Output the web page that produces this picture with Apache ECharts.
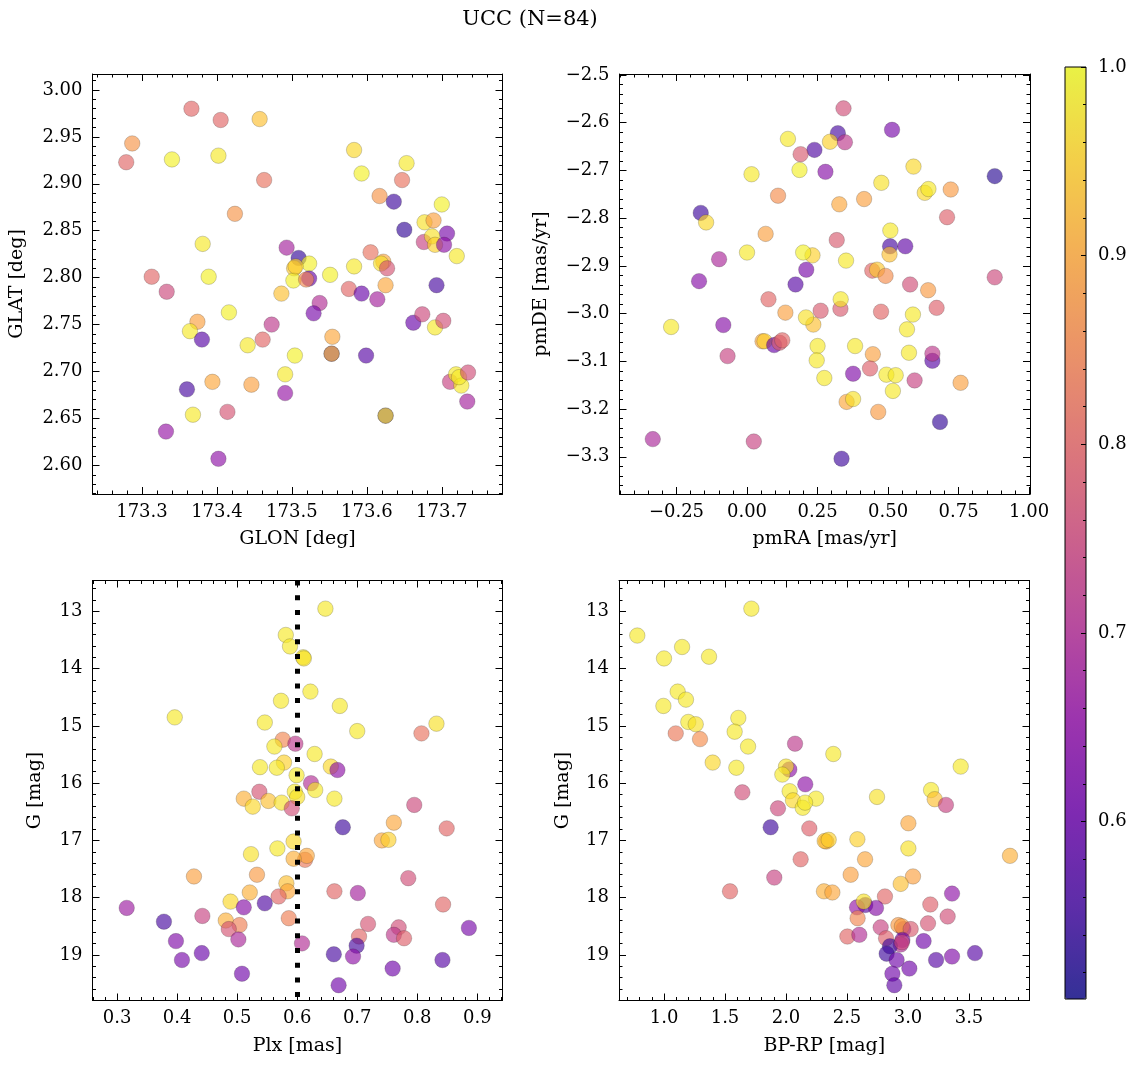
<!DOCTYPE html>
<html><head><meta charset="utf-8">
<script src="https://cdn.jsdelivr.net/npm/echarts@6/dist/echarts.min.js"></script>
<style>html,body{margin:0;padding:0;background:#fff}#c{width:1136px;height:1067px}</style>
</head><body><div id="c"></div><script>
// ---------------- DATA ----------------
const titleText = 'UCC (N=84)';
// Panel 1: GLON / GLAT
const glon = [173.366,173.405,173.457,173.287,173.279,173.340,173.402,173.463,173.583,173.593,173.653,173.647,173.617,173.636,173.424,173.700,173.677,173.689,173.650,173.707,173.676,173.687,173.691,173.703,173.720,173.381,173.493,173.509,173.523,173.503,173.502,173.523,173.519,173.551,173.583,173.605,173.622,173.619,173.627,173.625,173.693,173.313,173.389,173.333,173.486,173.576,173.593,173.614,173.537,173.529,173.416,173.374,173.364,173.380,173.473,173.461,173.441,173.554,173.553,173.553,173.504,173.599,173.662,173.674,173.691,173.702,173.491,173.394,173.446,173.360,173.491,173.368,173.414,173.625,173.625,173.332,173.402,173.711,173.719,173.726,173.723,173.735,173.734,173.505];
const glat = [2.980,2.968,2.969,2.943,2.923,2.926,2.930,2.904,2.936,2.911,2.922,2.904,2.887,2.881,2.868,2.878,2.859,2.861,2.851,2.847,2.838,2.844,2.835,2.835,2.823,2.836,2.832,2.821,2.815,2.810,2.797,2.799,2.798,2.803,2.812,2.827,2.817,2.815,2.810,2.792,2.792,2.801,2.801,2.785,2.783,2.788,2.783,2.777,2.773,2.762,2.763,2.753,2.743,2.734,2.750,2.734,2.728,2.737,2.719,2.719,2.717,2.717,2.752,2.761,2.747,2.754,2.697,2.689,2.686,2.681,2.677,2.654,2.657,2.653,2.653,2.636,2.607,2.689,2.697,2.685,2.694,2.699,2.668,2.812];
const probSky = [0.80,0.80,0.93,0.87,0.80,0.99,0.98,0.82,0.96,0.99,0.98,0.82,0.87,0.55,0.87,0.99,0.97,0.89,0.54,0.62,0.74,0.97,0.95,0.65,0.98,0.98,0.68,0.54,0.99,0.94,0.99,0.60,0.85,0.99,0.98,0.82,0.90,0.97,0.77,0.90,0.56,0.80,0.99,0.75,0.93,0.80,0.60,0.68,0.70,0.62,0.99,0.89,0.98,0.58,0.72,0.80,0.98,0.90,0.55,0.92,0.99,0.58,0.60,0.75,0.98,0.76,0.98,0.90,0.89,0.56,0.66,0.98,0.77,0.55,0.97,0.66,0.65,0.74,0.98,0.98,0.98,0.76,0.68,0.95];
// Panel 2: pmRA / pmDE
const pmra = [0.342,0.514,0.322,0.145,0.294,0.347,0.239,0.190,0.278,0.186,0.016,0.590,0.878,0.476,0.630,0.643,0.722,0.110,0.415,0.327,-0.164,-0.145,0.709,0.066,0.508,0.318,0.000,0.232,0.199,0.507,0.561,0.505,0.351,-0.099,0.210,-0.170,0.172,0.444,0.461,0.491,0.578,0.642,0.878,0.076,0.331,0.332,0.136,0.261,0.475,0.588,0.672,-0.269,-0.084,0.235,0.209,0.567,0.055,0.062,0.096,0.115,0.125,0.250,-0.069,0.383,0.446,0.574,0.657,0.657,0.247,0.274,0.376,0.436,0.494,0.527,0.517,0.594,0.757,0.353,0.376,0.465,0.684,-0.334,0.024,0.335];
const pmde = [-2.570,-2.615,-2.622,-2.634,-2.640,-2.641,-2.657,-2.666,-2.703,-2.699,-2.708,-2.692,-2.712,-2.726,-2.747,-2.739,-2.740,-2.753,-2.760,-2.771,-2.789,-2.809,-2.798,-2.833,-2.826,-2.846,-2.872,-2.878,-2.872,-2.859,-2.859,-2.876,-2.889,-2.886,-2.908,-2.932,-2.939,-2.910,-2.908,-2.921,-2.939,-2.951,-2.924,-2.970,-2.990,-2.970,-2.998,-2.994,-2.996,-3.002,-2.988,-3.028,-3.024,-3.023,-3.008,-3.033,-3.058,-3.058,-3.066,-3.061,-3.056,-3.068,-3.089,-3.068,-3.085,-3.082,-3.099,-3.084,-3.098,-3.135,-3.126,-3.115,-3.128,-3.129,-3.162,-3.140,-3.145,-3.185,-3.179,-3.206,-3.227,-3.263,-3.268,-3.304];
const probPm = [0.76,0.62,0.56,0.98,0.95,0.72,0.57,0.78,0.64,0.99,0.98,0.96,0.53,0.97,0.96,0.98,0.88,0.86,0.89,0.90,0.55,0.96,0.79,0.89,0.98,0.78,0.98,0.95,0.99,0.56,0.59,0.93,0.98,0.69,0.62,0.64,0.58,0.80,0.94,0.86,0.76,0.88,0.75,0.80,0.78,0.98,0.89,0.78,0.80,0.98,0.79,0.98,0.64,0.93,0.97,0.98,0.90,0.95,0.60,0.78,0.80,0.98,0.74,0.98,0.89,0.98,0.58,0.72,0.98,0.98,0.63,0.79,0.98,0.98,0.98,0.74,0.89,0.90,0.97,0.88,0.54,0.69,0.74,0.55];
// Panel 3: Plx / G
const plx = [0.647,0.581,0.588,0.610,0.611,0.622,0.573,0.671,0.396,0.546,0.700,0.832,0.807,0.576,0.597,0.562,0.629,0.578,0.538,0.566,0.656,0.667,0.599,0.623,0.537,0.596,0.600,0.630,0.511,0.552,0.574,0.526,0.591,0.662,0.795,0.676,0.761,0.849,0.741,0.752,0.594,0.567,0.523,0.613,0.616,0.594,0.428,0.533,0.785,0.582,0.584,0.521,0.569,0.662,0.701,0.489,0.546,0.316,0.511,0.843,0.442,0.378,0.481,0.504,0.486,0.586,0.718,0.769,0.761,0.778,0.703,0.886,0.398,0.502,0.608,0.699,0.441,0.661,0.408,0.693,0.842,0.508,0.759,0.669];
const gPlx = [12.95,13.41,13.61,13.80,13.82,14.40,14.56,14.65,14.85,14.94,15.09,14.96,15.13,15.24,15.31,15.36,15.49,15.64,15.72,15.73,15.71,15.77,15.86,16.00,16.15,16.15,16.24,16.12,16.27,16.31,16.34,16.41,16.44,16.27,16.38,16.77,16.69,16.79,17.00,16.99,17.02,17.14,17.24,17.34,17.27,17.32,17.63,17.60,17.66,17.75,17.89,17.91,17.98,17.89,17.92,18.07,18.10,18.18,18.17,18.12,18.32,18.42,18.40,18.48,18.55,18.36,18.46,18.52,18.65,18.71,18.68,18.53,18.76,18.73,18.80,18.84,18.97,18.99,19.09,19.03,19.09,19.33,19.24,19.53];
const probPlx = [0.98,0.98,0.98,0.98,0.97,0.98,0.98,0.98,0.98,0.98,0.98,0.97,0.82,0.85,0.72,0.98,0.98,0.95,0.98,0.98,0.96,0.65,0.98,0.70,0.77,0.98,0.97,0.98,0.91,0.93,0.97,0.96,0.76,0.98,0.75,0.55,0.90,0.80,0.90,0.95,0.96,0.98,0.97,0.83,0.90,0.91,0.89,0.88,0.76,0.93,0.90,0.91,0.80,0.80,0.68,0.96,0.57,0.67,0.64,0.80,0.74,0.56,0.91,0.84,0.77,0.84,0.77,0.76,0.72,0.79,0.80,0.62,0.63,0.69,0.70,0.56,0.60,0.56,0.62,0.65,0.58,0.61,0.61,0.61];
const plxLine = 0.597;
// Panel 4: BP-RP / G
const bprp = [1.716,0.781,1.148,1.000,1.369,1.112,1.180,0.995,1.609,1.199,1.260,1.096,1.295,1.579,2.074,1.689,2.388,1.399,1.593,3.432,2.027,2.000,1.970,2.158,2.030,3.189,1.642,2.057,2.246,2.137,2.156,3.219,3.311,1.934,2.746,1.874,2.191,3.003,2.330,2.317,2.350,2.585,3.003,2.120,2.648,3.836,1.904,2.530,3.041,1.541,2.311,2.380,2.940,3.361,2.811,2.650,2.582,2.738,2.637,3.183,2.587,3.325,2.776,2.962,2.921,2.950,3.022,3.164,2.820,2.503,2.601,2.954,2.940,3.128,2.852,2.825,2.907,3.011,2.872,2.888,3.230,3.361,3.549,2.950];
const gCmd = [12.95,13.42,13.62,13.82,13.79,14.40,14.54,14.65,14.86,14.93,14.97,15.13,15.23,15.10,15.31,15.36,15.49,15.64,15.73,15.71,15.76,15.71,15.85,16.02,16.14,16.12,16.16,16.30,16.27,16.43,16.34,16.28,16.38,16.44,16.24,16.77,16.79,16.70,17.02,17.01,16.99,16.98,17.14,17.33,17.33,17.27,17.65,17.60,17.63,17.89,17.89,17.91,17.76,17.93,17.98,18.13,18.17,18.18,18.07,18.12,18.36,18.33,18.52,18.55,18.48,18.50,18.55,18.45,18.71,18.68,18.65,18.74,18.82,18.76,18.85,18.98,19.09,19.24,19.33,19.53,19.09,19.03,18.97,18.78];
const probCmd = [0.98,0.98,0.98,0.98,0.98,0.98,0.98,0.98,0.98,0.98,0.97,0.83,0.86,0.98,0.72,0.98,0.98,0.96,0.98,0.98,0.65,0.97,0.98,0.65,0.98,0.98,0.76,0.96,0.98,0.98,0.98,0.93,0.74,0.75,0.97,0.55,0.79,0.90,0.90,0.93,0.95,0.95,0.97,0.80,0.90,0.91,0.74,0.89,0.89,0.80,0.91,0.90,0.93,0.65,0.80,0.58,0.66,0.64,0.97,0.79,0.85,0.76,0.74,0.64,0.88,0.88,0.78,0.77,0.79,0.80,0.70,0.62,0.70,0.61,0.55,0.55,0.61,0.61,0.61,0.59,0.58,0.63,0.58,0.75];
// Tick labels
const glonTicks = [173.3,173.4,173.5,173.6,173.7];
const glatTicks = [2.60,2.65,2.70,2.75,2.80,2.85,2.90,2.95,3.00];
const pmraTicks = [-0.25,0.00,0.25,0.50,0.75,1.00];
const pmdeTicks = [-3.3,-3.2,-3.1,-3.0,-2.9,-2.8,-2.7,-2.6,-2.5];
const plxTicks = [0.3,0.4,0.5,0.6,0.7,0.8,0.9];
const gTicks = [13,14,15,16,17,18,19];
const bprpTicks = [1.0,1.5,2.0,2.5,3.0,3.5];
const cbTicks = [0.6,0.7,0.8,0.9,1.0];
const probMin = 0.506, probMax = 1.0;

// ---------------- STYLE / BUILD ----------------
const FONT = 'DejaVu Serif';
const FS = 18;      // tick labels
const FSN = 19;     // axis names
const plasma = ['#0d0887','#41049d','#6a00a8','#8f0da4','#b12a90','#cc4778','#e16462','#f2844b','#fca636','#fcce25','#f0f921'];
const ALPHA = 0.8;
function rgba(h){const r=parseInt(h.slice(1,3),16),g=parseInt(h.slice(3,5),16),b=parseInt(h.slice(5,7),16);return `rgba(${r},${g},${b},${ALPHA})`;}
const plasmaA = plasma.map(rgba);

function minors(min,max,step,majors){
  const out=[];
  for(let k=Math.ceil(min/step-1e-9); k*step<=max+1e-12; k++){
    const v=+(k*step).toFixed(6);
    if(v<=min||v>=max) continue;
    if(!majors.some(m=>Math.abs(m-v)<step/10)) out.push(v);
  }
  return out;
}
function fmt(dec){return v=>{const s=Number(v).toFixed(dec);return s.replace('-','\u2212');};}
function zip(a,b,c){return a.map((v,i)=>[v,b[i],c[i]]);}

const grids=[], xAxes=[], yAxes=[];
const black={color:'#000',width:1};
const txt={fontFamily:FONT,fontSize:FS,color:'#000'};
const ntxt={fontFamily:FONT,fontSize:FSN,color:'#000'};

function panel(g, rect, xr, yr, xMaj, yMaj, xStep, yStep, xDec, yDec, xName, yName, xGap, yGap, yInv){
  grids.push({left:rect[0],top:rect[1],width:rect[2],height:rect[3],containLabel:false});
  const xMin=minors(xr[0],xr[1],xStep,xMaj), yMin=minors(yr[0],yr[1],yStep,yMaj);
  const cx={type:'value',gridIndex:g,min:xr[0],max:xr[1],splitLine:{show:false}};
  const cy={type:'value',gridIndex:g,min:yr[0],max:yr[1],inverse:!!yInv,splitLine:{show:false}};
  const line={show:true,onZero:false,lineStyle:black};
  const noline={show:false,onZero:false};
  xAxes.push(Object.assign({},cx,{position:'bottom',axisLine:line,
    axisTick:{show:true,inside:true,length:7,customValues:xMaj,lineStyle:black},
    axisLabel:Object.assign({show:true,customValues:xMaj,formatter:fmt(xDec),margin:9},txt),
    name:xName,nameLocation:'middle',nameGap:xGap,nameTextStyle:ntxt}));
  xAxes.push(Object.assign({},cx,{position:'top',axisLine:line,
    axisTick:{show:true,inside:true,length:7,customValues:xMaj,lineStyle:black},axisLabel:{show:false}}));
  xAxes.push(Object.assign({},cx,{position:'bottom',axisLine:noline,
    axisTick:{show:true,inside:true,length:3.5,customValues:xMin,lineStyle:black},axisLabel:{show:false}}));
  xAxes.push(Object.assign({},cx,{position:'top',axisLine:noline,
    axisTick:{show:true,inside:true,length:3.5,customValues:xMin,lineStyle:black},axisLabel:{show:false}}));
  yAxes.push(Object.assign({},cy,{position:'left',axisLine:line,
    axisTick:{show:true,inside:true,length:7,customValues:yMaj,lineStyle:black},
    axisLabel:Object.assign({show:true,customValues:yMaj,formatter:fmt(yDec),margin:10},txt),
    name:yName,nameLocation:'middle',nameGap:yGap,nameTextStyle:ntxt}));
  yAxes.push(Object.assign({},cy,{position:'right',axisLine:line,
    axisTick:{show:true,inside:true,length:7,customValues:yMaj,lineStyle:black},axisLabel:{show:false}}));
  yAxes.push(Object.assign({},cy,{position:'left',axisLine:noline,
    axisTick:{show:true,inside:true,length:3.5,customValues:yMin,lineStyle:black},axisLabel:{show:false}}));
  yAxes.push(Object.assign({},cy,{position:'right',axisLine:noline,
    axisTick:{show:true,inside:true,length:3.5,customValues:yMin,lineStyle:black},axisLabel:{show:false}}));
}

panel(0,[92.5,74,410,420],[173.234,173.781],[2.5695,3.017],glonTicks,glatTicks,0.02,0.01,1,2,'GLON [deg]','GLAT [deg]',36,66,false);
panel(1,[619.5,74,410.5,420],[-0.452,1.003],[-3.378,-2.498],pmraTicks,pmdeTicks,0.05,0.02,2,1,'pmRA [mas/yr]','pmDE [mas/yr]',36,69,false);
panel(2,[92.5,580.5,410,420],[0.259,0.942],[12.458,19.798],plxTicks,gTicks,0.02,0.2,1,0,'Plx [mas]','G [mag]',36,48,true);
panel(3,[619,580.5,410.5,420],[0.631,3.996],[12.458,19.798],bprpTicks,gTicks,0.1,0.2,1,0,'BP-RP [mag]','G [mag]',36,46,true);

// colorbar frame + ticks
const cbRect=[1065,67,21,932];
grids.push({left:cbRect[0],top:cbRect[1],width:cbRect[2],height:cbRect[3],show:true,borderColor:'#000',borderWidth:1,backgroundColor:'transparent',z:10});
xAxes.push({type:'value',gridIndex:4,min:0,max:1,show:false});
yAxes.push({type:'value',gridIndex:4,min:probMin,max:probMax,position:'right',z:10,splitLine:{show:false},
  axisLine:{show:false,onZero:false},
  axisTick:{show:true,inside:true,length:5,customValues:cbTicks,lineStyle:black},
  axisLabel:Object.assign({show:true,customValues:cbTicks,formatter:fmt(1),margin:12},txt)});
yAxes.push({type:'value',gridIndex:4,min:probMin,max:probMax,position:'right',z:10,splitLine:{show:false},
  axisLine:{show:false,onZero:false},
  axisTick:{show:true,inside:true,length:3,customValues:minors(probMin,probMax,0.02,cbTicks),lineStyle:black},
  axisLabel:{show:false}});

function scatter(g,data,extra){
  return Object.assign({type:'scatter',xAxisIndex:4*g,yAxisIndex:4*g,symbolSize:15.5,data:data,
    itemStyle:{borderColor:'rgba(40,40,40,0.45)',borderWidth:0.6},emphasis:{disabled:true},silent:true},extra||{});
}

const option={
  animation:false,
  backgroundColor:'#fff',
  graphic:[{type:'text',x:530,y:20,style:{text:titleText,font:`21px "${FONT}"`,fill:'#000',textAlign:'center',textVerticalAlign:'middle'}}],
  grid:grids, xAxis:xAxes, yAxis:yAxes,
  visualMap:[{type:'continuous',min:probMin,max:probMax,dimension:2,seriesIndex:[0,1,2,3],
    orient:'vertical',left:cbRect[0],top:cbRect[1],itemWidth:cbRect[2],itemHeight:cbRect[3],padding:0,
    calculable:false,hoverLink:false,text:null,inRange:{color:plasmaA}}],
  series:[
    scatter(0,zip(glon,glat,probSky)),
    scatter(1,zip(pmra,pmde,probPm)),
    scatter(2,zip(plx,gPlx,probPlx),{markLine:{silent:true,symbol:['none','none'],label:{show:false},z:10,
      lineStyle:{color:'#000',width:5,type:[5,9.7],cap:'butt'},emphasis:{disabled:true},data:[{xAxis:plxLine}]}}),
    scatter(3,zip(bprp,gCmd,probCmd))
  ]
};
const chart=echarts.init(document.getElementById('c'),null,{renderer:'canvas'});
chart.setOption(option);
</script></body></html>
